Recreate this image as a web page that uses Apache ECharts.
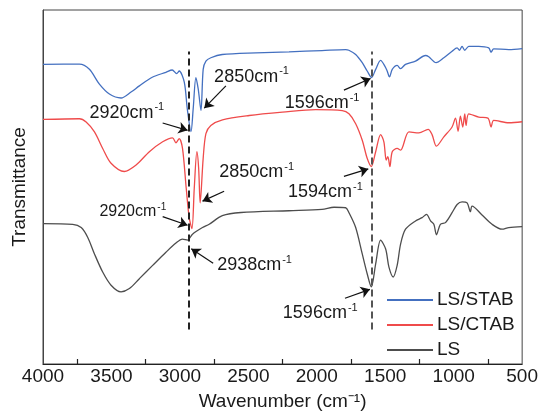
<!DOCTYPE html>
<html><head><meta charset="utf-8">
<script src="https://cdn.jsdelivr.net/npm/echarts@6/dist/echarts.min.js"></script>
<style>html,body{margin:0;padding:0;background:#fff}#c{width:541px;height:416px}</style>
</head><body><div id="c"></div>
<script>
// ---- data (wavenumber, transmittance a.u.) ----
var stabX = [4000,3734,3661,3588,3515,3430,3357,3296,3202,3102,3056,3024,3005,2968,2946,2919,2903,2883,2866,2846,2830,2810,2774,2691,2445,2203,1962,1789,1766,1716,1668,1632,1600,1570,1534,1503,1486,1469,1449,1413,1388,1352,1279,1206,1182,1129,1072,1012,975,958,939,919,890,817,744,727,708,598,500];
var stabY = [303,303.3,298,283,273,269,275,281.3,290,295,297.3,293.7,296.3,285,258,235,258,289.7,278,256.3,298,306.3,309.7,313,314.7,315.7,317,318,317.3,313,304.7,296.3,289.7,298,307,301.3,296.3,290.3,298,302,298.7,303,306.3,312,310.7,304.7,309.7,316.3,319.7,317.3,321.3,317.3,321.3,321.3,319.7,315.3,318.7,318,319];
var ctabX = [4000,3734,3685,3624,3564,3503,3406,3320,3223,3126,3054,3029,3005,2981,2954,2932,2912,2895,2876,2863,2852,2830,2810,2774,2689,2494,2251,2008,1814,1765,1716,1668,1632,1602,1570,1534,1510,1493,1481,1466,1449,1413,1388,1327,1254,1187,1158,1126,1072,1012,987,968,951,934,919,910,890,817,750,727,708,598,500];
var ctabY = [247.3,248,244.7,234.7,218,203,194.7,201.3,214.7,224.7,228.7,223.7,228,218,178,148,137,178,214.7,198,163,208,233,241.3,247,251.3,254.7,257.3,256.3,253,243,226.3,208,199.7,214.7,232,224.7,206.3,209.7,199.7,214.7,218,216.3,234.7,233.7,237.3,232,220.3,229.7,239.7,248.7,235.3,250.7,239.7,253,241.3,253,249.7,248.7,239.7,246.3,244,245];
var lsX = [4000,3783,3721,3673,3624,3564,3503,3430,3369,3296,3199,3102,3029,2981,2944,2908,2835,2786,2690,2553,2203,1962,1874,1789,1765,1716,1668,1632,1602,1570,1534,1497,1473,1442,1413,1388,1352,1279,1231,1199,1169,1145,1126,1097,1060,1012,975,939,902,878,866,793,720,647,598,500];
var lsY = [142,141.3,138,128,111.3,93,79.7,73,76.3,86.3,99.7,113,122.3,126.3,125.3,131.3,138,141.3,150,153.2,155,156.3,158.5,158,153,138,111.3,91.3,78,101.3,125.3,116.3,98,88,99.7,121.3,136.3,144.7,148,151.3,144.7,141.3,130.7,141.3,143,153,161.3,164,163,154,159.7,150.7,141.3,136.3,138,139];
var seriesNames = ['LS/STAB','LS/CTAB','LS'];
var xTicks = [4000,3500,3000,2500,2000,1500,1000,500];
// annotations
var annText = ['2920','2850','1596','2920','2850','1594','2938','1596'];
var annSize = [18,18,18,16,18,18,18,18];
var annTextPos = [[3661,255.3],[2750,291.3],[2235,264.8],[3588,154.7],[2713,194.7],[2210,174.7],[2728,101],[2248,52.6]];
var annArrowFrom = [[3126,243.7],[2664,281.3],[1802,277],[3126,149],[2677,174.7],[1802,189.7],[2757,102],[1794,66.5]];
var annArrowTo = [[2944,236.3],[2822,258.7],[1607,288.7],[2944,140.3],[2835,164.7],[1624,197.3],[2917,116.5],[1612,75.5]];
var dashX = [2935,1596];
var dashRange = [35,316];

function zip(xs, ys){ return xs.map(function(x,i){ return [x, ys[i]]; }); }
var FONT = '"Liberation Sans", Arial, sans-serif';
var colors = ['#4470c0','#ef4b4b','#4d4d4d'];

var arrows = annArrowFrom.map(function(f,i){ return [{coord:f},{coord:annArrowTo[i]}]; });
var dashes = dashX.map(function(x,i){
  return [{coord:[x,dashRange[0]], symbol:'none', lineStyle:{type:[7,4], width:2, color: i===0?'#222':'#555'}},{coord:[x,dashRange[1]], symbol:'none'}];
});
var labels = annText.map(function(t,i){
  var fs = annSize[i];
  return {coord: annTextPos[i], value: t,
    label:{show:true, position:[0,0], align:'left', verticalAlign:'middle',
      formatter: '{a|' + t + 'cm}{s|-1}',
      rich:{a:{fontSize:fs, fontFamily:FONT, color:'#1a1a1a', lineHeight:fs+2, verticalAlign:'bottom'},
            s:{fontSize:Math.round(fs*0.62), fontFamily:FONT, color:'#1a1a1a', lineHeight:Math.round(fs*0.62), verticalAlign:'top', padding:[0,0,0,1]}}}};
});

var chart = echarts.init(document.getElementById('c'));
chart.setOption({
  animation:false,
  color: colors,
  grid:{left:43, right:18, top:10, bottom:48, show:true, borderColor:'#444', borderWidth:1},
  legend:{data:seriesNames, orient:'vertical', left:382, top:285, itemWidth:46, itemHeight:2, icon:'rect', itemGap:5,
    textStyle:{fontSize:19, fontFamily:FONT, color:'#1a1a1a', lineHeight:20, padding:[0,0,0,-1]}},
  xAxis:{type:'value', inverse:true, min:500, max:4000, interval:500,
    name:'Wavenumber (cm⁻¹)', nameLocation:'middle', nameGap:28,
    nameTextStyle:{fontSize:19, fontFamily:FONT, color:'#1a1a1a'},
    axisLine:{show:true, onZero:false, lineStyle:{color:'#222', width:1.2}},
    axisTick:{show:false, inside:true},
    minorTick:{show:true, splitNumber:2, length:5, lineStyle:{color:'#222', width:1.2}},
    splitLine:{show:false}, minorSplitLine:{show:false},
    axisLabel:{fontSize:19, fontFamily:FONT, color:'#1a1a1a', margin:3,
      formatter:function(v){ return xTicks.indexOf(v)>=0 ? String(v) : ''; }}},
  yAxis:{type:'value', min:0, max:358, name:'Transmittance', nameLocation:'middle', nameGap:14,
    nameTextStyle:{fontSize:19, fontFamily:FONT, color:'#1a1a1a'},
    axisLine:{show:true, lineStyle:{color:'#444', width:1}}, axisTick:{show:false}, axisLabel:{show:false}, splitLine:{show:false}},
  series:[
    {name:seriesNames[0], type:'line', data:zip(stabX,stabY), symbol:'none', smooth:0.3, lineStyle:{width:1.3, color:colors[0]}},
    {name:seriesNames[1], type:'line', data:zip(ctabX,ctabY), symbol:'none', smooth:0.3, lineStyle:{width:1.3, color:colors[1]}},
    {name:seriesNames[2], type:'line', data:zip(lsX,lsY), symbol:'none', smooth:0.3, lineStyle:{width:1.3, color:colors[2]}},
    {name:'annot', type:'line', data:[], silent:true,
      markLine:{silent:true, animation:false, symbol:['none','arrow'], symbolSize:9, label:{show:false},
        lineStyle:{color:'#111', width:1.2, type:'solid'}, emphasis:{disabled:true},
        data: arrows.concat(dashes)},
      markPoint:{silent:true, animation:false, symbol:'circle', symbolSize:0, itemStyle:{color:'rgba(0,0,0,0)'}, data:labels}}
  ]
});
</script></body></html>
